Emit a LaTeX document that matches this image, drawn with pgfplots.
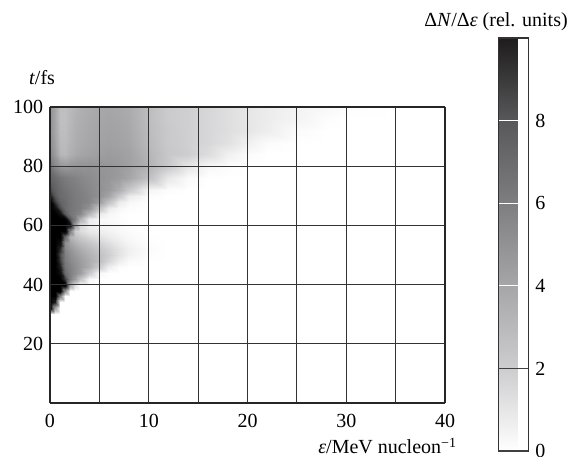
\documentclass[border=0pt]{standalone}
\usepackage{fontspec}
\setmainfont{Liberation Serif}
\usepackage{pgfplots}
\pgfplotsset{compat=1.18}
\pgfplotsset{/pgf/number format/assume math mode=true}
\begin{document}
\fontsize{15pt}{18pt}\selectfont
\begin{tikzpicture}[font=\fontsize{15pt}{18pt}\selectfont]
\path[use as bounding box] (0pt,0pt) rectangle (434.25pt,342.75pt);
\begin{axis}[
  at={(37.5pt,40.5pt)}, anchor=south west,
  scale only axis, width=296.25pt, height=222pt,
  view={0}{90},
  xmin=0,xmax=40,ymin=0,ymax=100,
  xtick={0,10,20,30,40}, minor xtick={5,15,25,35},
  ytick={20,40,60,80,100},
  xmajorgrids, xminorgrids, ymajorgrids,
  grid style={black!80, line width=0.8pt},
  minor grid style={black!80, line width=0.8pt},
  major tick length=0pt, minor tick length=0pt,
  axis line style={black!85, line width=1.4pt},
  axis on top,
  tick label style={font=\fontsize{15pt}{18pt}\selectfont},
  xticklabel style={yshift=-3pt},
  colormap={bw}{rgb255(0)=(255,255,255) rgb255(2)=(205,205,207) rgb255(4)=(166,166,168) rgb255(6)=(126,126,128) rgb255(8)=(88,88,90) rgb255(10)=(30,28,28) rgb255(12)=(0,0,0)},
  point meta min=0, point meta max=12,
  colorbar,
  colorbar style={
    at={(parent axis.south east)}, anchor=south west, xshift=31.5pt, yshift=-36pt,
    scale only axis, width=22.5pt, height=309.75pt,
    ymin=0, ymax=10,
    ytick={4,6,8}, extra y ticks={0,2},
    ymajorgrids, grid style={white, line width=0.8pt},
    extra y tick style={grid style={black!75, line width=0.8pt}},
    major tick length=0pt,
    yticklabel pos=right,
    axis line style={black!80, line width=1.2pt},
    axis on top,
    tick label style={font=\fontsize{15pt}{18pt}\selectfont},
  },
]
\addplot3[surf, shader=interp] coordinates {
(0,0,0) (0.5,0,0) (1,0,0) (1.5,0,0) (2,0,0) (2.5,0,0) (3,0,0) (4,0,0) (5,0,0) (6,0,0) (7,0,0) (8,0,0) (10,0,0) (12,0,0) (14,0,0) (16,0,0) (18,0,0) (20,0,0) (22,0,0) (25,0,0) (28,0,0) (30,0,0) (35,0,0) (40,0,0)

(0,30,0) (0.5,30,0) (1,30,0) (1.5,30,0) (2,30,0) (2.5,30,0) (3,30,0) (4,30,0) (5,30,0) (6,30,0) (7,30,0) (8,30,0) (10,30,0) (12,30,0) (14,30,0) (16,30,0) (18,30,0) (20,30,0) (22,30,0) (25,30,0) (28,30,0) (30,30,0) (35,30,0) (40,30,0)

(0,32,12) (0.5,32,4) (1,32,0) (1.5,32,0) (2,32,0) (2.5,32,0) (3,32,0) (4,32,0) (5,32,0) (6,32,0) (7,32,0) (8,32,0) (10,32,0) (12,32,0) (14,32,0) (16,32,0) (18,32,0) (20,32,0) (22,32,0) (25,32,0) (28,32,0) (30,32,0) (35,32,0) (40,32,0)

(0,34,12) (0.5,34,10) (1,34,0) (1.5,34,0) (2,34,0) (2.5,34,0) (3,34,0) (4,34,0) (5,34,0) (6,34,0) (7,34,0) (8,34,0) (10,34,0) (12,34,0) (14,34,0) (16,34,0) (18,34,0) (20,34,0) (22,34,0) (25,34,0) (28,34,0) (30,34,0) (35,34,0) (40,34,0)

(0,36,12) (0.5,36,12) (1,36,6) (1.5,36,0) (2,36,0) (2.5,36,0) (3,36,0) (4,36,0) (5,36,0) (6,36,0) (7,36,0) (8,36,0) (10,36,0) (12,36,0) (14,36,0) (16,36,0) (18,36,0) (20,36,0) (22,36,0) (25,36,0) (28,36,0) (30,36,0) (35,36,0) (40,36,0)

(0,38,12) (0.5,38,12) (1,38,12) (1.5,38,5) (2,38,0) (2.5,38,0) (3,38,0) (4,38,0) (5,38,0) (6,38,0) (7,38,0) (8,38,0) (10,38,0) (12,38,0) (14,38,0) (16,38,0) (18,38,0) (20,38,0) (22,38,0) (25,38,0) (28,38,0) (30,38,0) (35,38,0) (40,38,0)

(0,40,12) (0.5,40,12) (1,40,12) (1.5,40,12) (2,40,4) (2.5,40,1.2) (3,40,0) (4,40,0) (5,40,0) (6,40,0) (7,40,0) (8,40,0) (10,40,0) (12,40,0) (14,40,0) (16,40,0) (18,40,0) (20,40,0) (22,40,0) (25,40,0) (28,40,0) (30,40,0) (35,40,0) (40,40,0)

(0,42,12) (0.5,42,12) (1,42,12) (1.5,42,9) (2,42,6) (2.5,42,4.5) (3,42,2.5) (4,42,0.3) (5,42,0) (6,42,0) (7,42,0) (8,42,0) (10,42,0) (12,42,0) (14,42,0) (16,42,0) (18,42,0) (20,42,0) (22,42,0) (25,42,0) (28,42,0) (30,42,0) (35,42,0) (40,42,0)

(0,44,12) (0.5,44,12) (1,44,11) (1.5,44,7) (2,44,6) (2.5,44,5.2) (3,44,4.5) (4,44,2.2) (5,44,0.3) (6,44,0) (7,44,0) (8,44,0) (10,44,0) (12,44,0) (14,44,0) (16,44,0) (18,44,0) (20,44,0) (22,44,0) (25,44,0) (28,44,0) (30,44,0) (35,44,0) (40,44,0)

(0,46,12) (0.5,46,12) (1,46,10) (1.5,46,6.5) (2,46,5.8) (2.5,46,5.2) (3,46,4.6) (4,46,3.6) (5,46,2) (6,46,0.6) (7,46,0.1) (8,46,0) (10,46,0) (12,46,0) (14,46,0) (16,46,0) (18,46,0) (20,46,0) (22,46,0) (25,46,0) (28,46,0) (30,46,0) (35,46,0) (40,46,0)

(0,48,12) (0.5,48,12) (1,48,9) (1.5,48,6.2) (2,48,5.5) (2.5,48,5) (3,48,4.5) (4,48,3.7) (5,48,2.8) (6,48,1.6) (7,48,0.7) (8,48,0.2) (10,48,0) (12,48,0) (14,48,0) (16,48,0) (18,48,0) (20,48,0) (22,48,0) (25,48,0) (28,48,0) (30,48,0) (35,48,0) (40,48,0)

(0,50,12) (0.5,50,12) (1,50,8.5) (1.5,50,6) (2,50,5.2) (2.5,50,4.7) (3,50,4.2) (4,50,3.4) (5,50,2.7) (6,50,1.9) (7,50,1.1) (8,50,0.5) (10,50,0.1) (12,50,0) (14,50,0) (16,50,0) (18,50,0) (20,50,0) (22,50,0) (25,50,0) (28,50,0) (30,50,0) (35,50,0) (40,50,0)

(0,52,12) (0.5,52,12) (1,52,9.5) (1.5,52,5.6) (2,52,4.8) (2.5,52,4.2) (3,52,3.7) (4,52,3) (5,52,2.3) (6,52,1.7) (7,52,1.1) (8,52,0.6) (10,52,0.15) (12,52,0) (14,52,0) (16,52,0) (18,52,0) (20,52,0) (22,52,0) (25,52,0) (28,52,0) (30,52,0) (35,52,0) (40,52,0)

(0,54,12) (0.5,54,12) (1,54,11) (1.5,54,5.2) (2,54,4.2) (2.5,54,3.5) (3,54,3) (4,54,2.4) (5,54,1.8) (6,54,1.3) (7,54,0.8) (8,54,0.4) (10,54,0.1) (12,54,0) (14,54,0) (16,54,0) (18,54,0) (20,54,0) (22,54,0) (25,54,0) (28,54,0) (30,54,0) (35,54,0) (40,54,0)

(0,56,12) (0.5,56,12) (1,56,12) (1.5,56,7) (2,56,3.4) (2.5,56,2.7) (3,56,2.2) (4,56,1.6) (5,56,1.2) (6,56,0.8) (7,56,0.5) (8,56,0.25) (10,56,0.05) (12,56,0) (14,56,0) (16,56,0) (18,56,0) (20,56,0) (22,56,0) (25,56,0) (28,56,0) (30,56,0) (35,56,0) (40,56,0)

(0,58,12) (0.5,58,12) (1,58,12) (1.5,58,12) (2,58,6) (2.5,58,2) (3,58,1.4) (4,58,0.9) (5,58,0.7) (6,58,0.5) (7,58,0.3) (8,58,0.15) (10,58,0) (12,58,0) (14,58,0) (16,58,0) (18,58,0) (20,58,0) (22,58,0) (25,58,0) (28,58,0) (30,58,0) (35,58,0) (40,58,0)

(0,60,12) (0.5,60,12) (1,60,12) (1.5,60,12) (2,60,11) (2.5,60,4.5) (3,60,1.5) (4,60,0.6) (5,60,0.4) (6,60,0.3) (7,60,0.2) (8,60,0.1) (10,60,0) (12,60,0) (14,60,0) (16,60,0) (18,60,0) (20,60,0) (22,60,0) (25,60,0) (28,60,0) (30,60,0) (35,60,0) (40,60,0)

(0,62,12) (0.5,62,12) (1,62,12) (1.5,62,12) (2,62,8) (2.5,62,6) (3,62,3.5) (4,62,0.8) (5,62,0.3) (6,62,0.2) (7,62,0.1) (8,62,0) (10,62,0) (12,62,0) (14,62,0) (16,62,0) (18,62,0) (20,62,0) (22,62,0) (25,62,0) (28,62,0) (30,62,0) (35,62,0) (40,62,0)

(0,64,12) (0.5,64,12) (1,64,11) (1.5,64,8) (2,64,6.5) (2.5,64,6) (3,64,5.5) (4,64,3) (5,64,0.8) (6,64,0.3) (7,64,0.1) (8,64,0) (10,64,0) (12,64,0) (14,64,0) (16,64,0) (18,64,0) (20,64,0) (22,64,0) (25,64,0) (28,64,0) (30,64,0) (35,64,0) (40,64,0)

(0,66,12) (0.5,66,11) (1,66,8.5) (1.5,66,7) (2,66,6.5) (2.5,66,6.2) (3,66,6) (4,66,5) (5,66,2.5) (6,66,0.8) (7,66,0.3) (8,66,0.1) (10,66,0) (12,66,0) (14,66,0) (16,66,0) (18,66,0) (20,66,0) (22,66,0) (25,66,0) (28,66,0) (30,66,0) (35,66,0) (40,66,0)

(0,68,12) (0.5,68,9) (1,68,7.5) (1.5,68,7) (2,68,6.5) (2.5,68,6.2) (3,68,6) (4,68,5.6) (5,68,4.5) (6,68,2.5) (7,68,0.8) (8,68,0.3) (10,68,0) (12,68,0) (14,68,0) (16,68,0) (18,68,0) (20,68,0) (22,68,0) (25,68,0) (28,68,0) (30,68,0) (35,68,0) (40,68,0)

(0,70,10) (0.5,70,8) (1,70,7) (1.5,70,6.8) (2,70,6.5) (2.5,70,6.2) (3,70,6) (4,70,5.6) (5,70,5.1) (6,70,4) (7,70,2.2) (8,70,0.8) (10,70,0.1) (12,70,0) (14,70,0) (16,70,0) (18,70,0) (20,70,0) (22,70,0) (25,70,0) (28,70,0) (30,70,0) (35,70,0) (40,70,0)

(0,72,8.5) (0.5,72,7.5) (1,72,7) (1.5,72,6.6) (2,72,6.3) (2.5,72,6.1) (3,72,5.9) (4,72,5.5) (5,72,5.1) (6,72,4.6) (7,72,3.6) (8,72,2.2) (10,72,0.4) (12,72,0.1) (14,72,0) (16,72,0) (18,72,0) (20,72,0) (22,72,0) (25,72,0) (28,72,0) (30,72,0) (35,72,0) (40,72,0)

(0,76,7.5) (0.5,76,7) (1,76,6.5) (1.5,76,6.2) (2,76,6) (2.5,76,5.8) (3,76,5.6) (4,76,5.3) (5,76,5) (6,76,4.8) (7,76,4.5) (8,76,4) (10,76,2.6) (12,76,0.9) (14,76,0.2) (16,76,0) (18,76,0) (20,76,0) (22,76,0) (25,76,0) (28,76,0) (30,76,0) (35,76,0) (40,76,0)

(0,80,6.5) (0.5,80,5.5) (1,80,4.8) (1.5,80,4.6) (2,80,4.8) (2.5,80,4.9) (3,80,5) (4,80,5) (5,80,4.9) (6,80,4.8) (7,80,4.6) (8,80,4.3) (10,80,3.4) (12,80,2.2) (14,80,1) (16,80,0.3) (18,80,0.1) (20,80,0) (22,80,0) (25,80,0) (28,80,0) (30,80,0) (35,80,0) (40,80,0)

(0,84,5.5) (0.5,84,4.5) (1,84,3.2) (1.5,84,3) (2,84,3.5) (2.5,84,3.8) (3,84,4) (4,84,4.2) (5,84,4.4) (6,84,4.5) (7,84,4.4) (8,84,4.2) (10,84,3.2) (12,84,2.3) (14,84,2) (16,84,1.4) (18,84,0.6) (20,84,0.15) (22,84,0) (25,84,0) (28,84,0) (30,84,0) (35,84,0) (40,84,0)

(0,88,5.2) (0.5,88,4.2) (1,88,3) (1.5,88,2.9) (2,88,3.3) (2.5,88,3.6) (3,88,3.8) (4,88,4) (5,88,4.2) (6,88,4.3) (7,88,4.2) (8,88,4) (10,88,3) (12,88,2.2) (14,88,1.9) (16,88,1.6) (18,88,1.2) (20,88,0.6) (22,88,0.15) (25,88,0) (28,88,0) (30,88,0) (35,88,0) (40,88,0)

(0,92,5) (0.5,92,4) (1,92,2.8) (1.5,92,2.8) (2,92,3.2) (2.5,92,3.5) (3,92,3.7) (4,92,3.9) (5,92,4.1) (6,92,4.2) (7,92,4.1) (8,92,3.9) (10,92,2.9) (12,92,2.2) (14,92,1.9) (16,92,1.6) (18,92,1.3) (20,92,1) (22,92,0.7) (25,92,0.15) (28,92,0) (30,92,0) (35,92,0) (40,92,0)

(0,96,5) (0.5,96,4) (1,96,2.7) (1.5,96,2.7) (2,96,3.1) (2.5,96,3.4) (3,96,3.6) (4,96,3.8) (5,96,4) (6,96,4.1) (7,96,4) (8,96,3.8) (10,96,2.8) (12,96,2.1) (14,96,1.9) (16,96,1.6) (18,96,1.3) (20,96,1) (22,96,0.75) (25,96,0.45) (28,96,0.1) (30,96,0) (35,96,0) (40,96,0)

(0,100,5) (0.5,100,4) (1,100,2.7) (1.5,100,2.7) (2,100,3) (2.5,100,3.3) (3,100,3.5) (4,100,3.7) (5,100,3.9) (6,100,4) (7,100,3.9) (8,100,3.7) (10,100,2.8) (12,100,2.1) (14,100,1.9) (16,100,1.6) (18,100,1.3) (20,100,1) (22,100,0.75) (25,100,0.5) (28,100,0.3) (30,100,0.1) (35,100,0) (40,100,0)
};
\end{axis}
\node at (31.5pt,284.25pt) {\textit{t}/fs};
\node at (372pt,326.25pt) {Δ\textit{N}/Δ\textit{ε} (rel. units)};
\node[anchor=base east, inner sep=0pt] at (342.75pt,2.25pt) {\textit{ε}/MeV nucleon\textsuperscript{−1}};
\end{tikzpicture}
\end{document}
